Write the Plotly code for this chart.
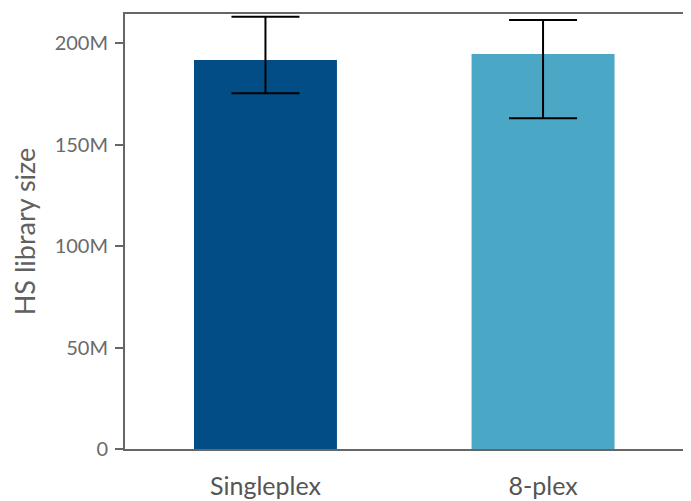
import plotly.graph_objects as go

categories = ["Singleplex", "8-plex"]
values = [191.6e6, 194.6e6]
err_plus = [21.4e6, 16.7e6]
err_minus = [16.4e6, 31.7e6]
colors = ["#034D87", "#4AA8C6"]
y_tickvals = [0, 50e6, 100e6, 150e6, 200e6]
y_ticktext = ["0", "50M", "100M", "150M", "200M"]

fig = go.Figure(
    go.Bar(
        x=categories,
        y=values,
        marker=dict(color=colors, line=dict(width=0)),
        width=0.515,
        error_y=dict(
            type="data",
            symmetric=False,
            array=err_plus,
            arrayminus=err_minus,
            color="#000000",
            thickness=2,
            width=34,
        ),
    )
)

fig.update_layout(
    width=683,
    height=493,
    margin=dict(l=117, r=0, t=6, b=52),
    plot_bgcolor="white",
    paper_bgcolor="white",
    showlegend=False,
    font=dict(family="Lato", color="#606060"),
    xaxis=dict(
        range=[-0.506, 1.533],
        showline=True,
        linecolor="#666666",
        linewidth=2,
        mirror=True,
        ticks="",
        showgrid=False,
        ticklabelstandoff=14,
        tickfont=dict(size=25, color="#555555"),
    ),
    yaxis=dict(
        range=[0, 214.3e6],
        tickvals=y_tickvals,
        ticktext=y_ticktext,
        showline=True,
        linecolor="#666666",
        linewidth=2,
        ticks="outside",
        ticklen=8,
        tickwidth=2,
        tickcolor="#666666",
        showgrid=False,
        zeroline=False,
        ticklabelstandoff=3,
        tickfont=dict(size=20, color="#6a6a6a"),
        title=dict(text="HS library size", font=dict(size=27, color="#606060"), standoff=29),
    ),
)

fig.write_html("out.html")
